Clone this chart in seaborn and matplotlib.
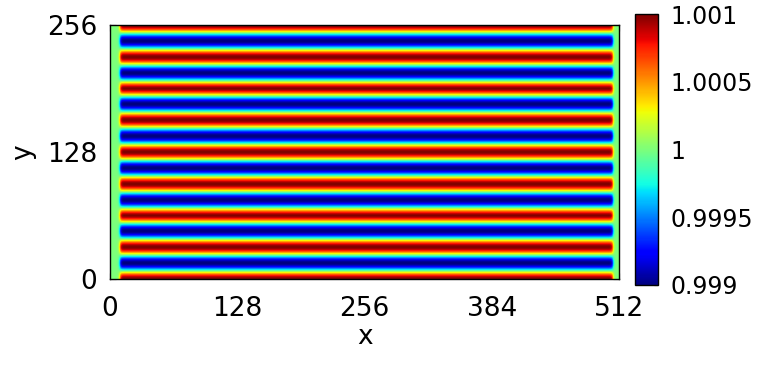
import numpy as np
import seaborn as sns
import matplotlib
matplotlib.use("Agg")
import matplotlib.pyplot as plt

# field parameters
nx, ny = 512, 256
n_waves = 8            # red crests along y
amplitude = 0.001      # 0.999 .. 1.001
base_value = 1.0
margin_left = 10       # green strip on the left
margin_right = 505     # green strip starts here on the right
edge_width = 1.5

x_ticks = [0, 128, 256, 384, 512]
y_ticks = [0, 128, 256]
cbar_ticks = [0.999, 0.9995, 1.0, 1.0005, 1.001]
cbar_labels = ["0.999", "0.9995", "1", "1.0005", "1.001"]

sns.set_theme(style="white")
plt.rcParams['font.family'] = ['DejaVu Sans']
plt.rcParams['font.size'] = 19
for k in ['text.color', 'axes.labelcolor', 'xtick.color', 'ytick.color']:
    plt.rcParams[k] = 'black'

xc = np.arange(nx) + 0.5
yc = np.arange(ny) + 0.5
mask = 0.5 * (np.tanh((xc - margin_left) / edge_width) - np.tanh((xc - margin_right) / edge_width))
field = base_value + amplitude * np.outer(np.cos(2 * np.pi * n_waves * yc / ny), mask)

fig = plt.figure(figsize=(7.59, 3.65), dpi=100)
ax = fig.add_axes([0.1449, 0.2356, 0.8162 - 0.1449, 0.9315 - 0.2356])
cax = fig.add_axes([0.8366, 0.2192, 0.8665 - 0.8366, 0.9608 - 0.2192])

sns.heatmap(field, ax=ax, cbar_ax=cax, cmap="jet", vmin=0.999, vmax=1.001,
            xticklabels=False, yticklabels=False, rasterized=True,
            cbar_kws={"ticks": cbar_ticks})
ax.set_ylim(0, ny)
ax.set_xlim(0, nx)
ax.set_aspect("auto")

for s in ax.spines.values():
    s.set_visible(True)
    s.set_color("black")
    s.set_linewidth(1.0)

ax.set_xticks(x_ticks)
ax.set_xticklabels([str(t) for t in x_ticks], rotation=0)
ax.set_yticks(y_ticks)
ax.set_yticklabels([str(t) for t in y_ticks], rotation=0)
ax.tick_params(direction="in", length=4, width=0.8, color="black",
               top=True, right=True, bottom=True, left=True, labelsize=19)
ax.tick_params(axis="x", pad=12)
ax.tick_params(axis="y", pad=9)
ax.set_xlabel("x", fontsize=19, labelpad=2)
ax.set_ylabel("y", fontsize=19, labelpad=8)

cbar = ax.collections[0].colorbar
cbar.set_ticks(cbar_ticks)
cbar.set_ticklabels(cbar_labels)
cbar.outline.set_visible(True)
cbar.outline.set_edgecolor("black")
cbar.outline.set_linewidth(1.0)
cbar.ax.tick_params(direction="in", length=3, width=0.8, color="black",
                    labelsize=17, pad=9, right=True)

fig.savefig("out.png", dpi=100)
